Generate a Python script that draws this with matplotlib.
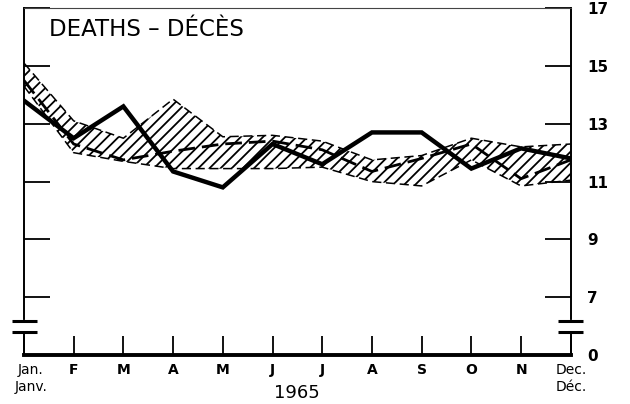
import matplotlib
matplotlib.use('Agg')
import matplotlib.pyplot as plt
import matplotlib.transforms as mtransforms

# monthly values (1965)
months = ['Jan.\nJanv.', 'F', 'M', 'A', 'M', 'J', 'J', 'A', 'S', 'O', 'N', 'Dec.\nDéc.']
deaths = [13.8, 12.5, 13.6, 11.35, 10.8, 12.3, 11.6, 12.7, 12.7, 11.45, 12.15, 11.8]
average = [14.5, 12.3, 11.75, 12.05, 12.3, 12.4, 12.1, 11.35, 11.8, 12.3, 11.1, 11.75]
band_high = [15.1, 13.1, 12.5, 13.85, 12.55, 12.6, 12.4, 11.75, 11.9, 12.5, 12.2, 12.3]
band_low = [14.3, 12.0, 11.7, 11.45, 11.45, 11.45, 11.5, 11.0, 10.85, 11.75, 10.85, 11.05]
ytick_vals = [5, 7, 9, 11, 13, 15, 17]
ytick_labels = ['0', '7', '9', '11', '13', '15', '17']

plt.rcParams['hatch.linewidth'] = 1.3

fig = plt.figure(figsize=(6.3, 4.04), dpi=100)
ax = fig.add_axes([0.038, 0.121, 0.868, 0.859])

x = list(range(len(months)))

# hatched range band
ax.fill_between(x, band_low, band_high, facecolor='white', edgecolor='black',
                hatch='///', linewidth=0, zorder=1)
ax.plot(x, band_high, color='black', linewidth=1.1, linestyle=(0, (6, 3)), zorder=2)
ax.plot(x, band_low, color='black', linewidth=1.1, linestyle=(0, (6, 3)), zorder=2)

# average (dashed) and 1965 (solid)
ax.plot(x, average, color='black', linewidth=2.0, linestyle=(0, (6, 2.5)), zorder=3)
ax.plot(x, deaths, color='black', linewidth=3.2, solid_joinstyle='miter', zorder=4)

ax.set_xlim(0, 11)
ax.set_ylim(5, 17)

ax.set_xticks(x)
ax.set_xticklabels(months)
ax.set_yticks(ytick_vals)
ax.set_yticklabels(ytick_labels)

ax.tick_params(axis='x', direction='in', length=14, width=1.3, pad=6,
               labelsize=10)
ax.tick_params(axis='y', direction='in', length=19, width=1.3, pad=12,
               left=True, right=True, labelleft=False, labelright=True,
               labelsize=11)
for lab in ax.get_xticklabels()[1:-1] + ax.get_yticklabels():
    lab.set_fontweight('bold')
# Jan. label sits a little right of the axis corner
jan = ax.get_xticklabels()[0]
jan.set_transform(jan.get_transform() + mtransforms.ScaledTranslation(7 / 100, 0, fig.dpi_scale_trans))

ax.spines['bottom'].set_linewidth(2.8)
ax.spines['left'].set_linewidth(1.4)
ax.spines['right'].set_linewidth(1.4)
ax.spines['top'].set_linewidth(0.8)
ax.spines['top'].set_color('#444444')

# axis break marks on both sides
for xb, (x0, x1) in [(0, (-0.24, 0.26)), (11, (10.74, 11.24))]:
    ax.plot([xb, xb], [5.82, 6.14], color='white', linewidth=3, clip_on=False, zorder=5)
    for yb in (6.17, 5.79):
        ax.plot([x0, x1], [yb, yb], color='black', linewidth=2.2, clip_on=False,
                solid_capstyle='butt', zorder=6)

ax.text(0.5, 16.25, 'DEATHS – DÉCÈS', fontsize=16.5, ha='left', va='center')
fig.text(0.472, 0.027, '1965', fontsize=13, ha='center', va='center')

fig.savefig('out.png', dpi=100)
